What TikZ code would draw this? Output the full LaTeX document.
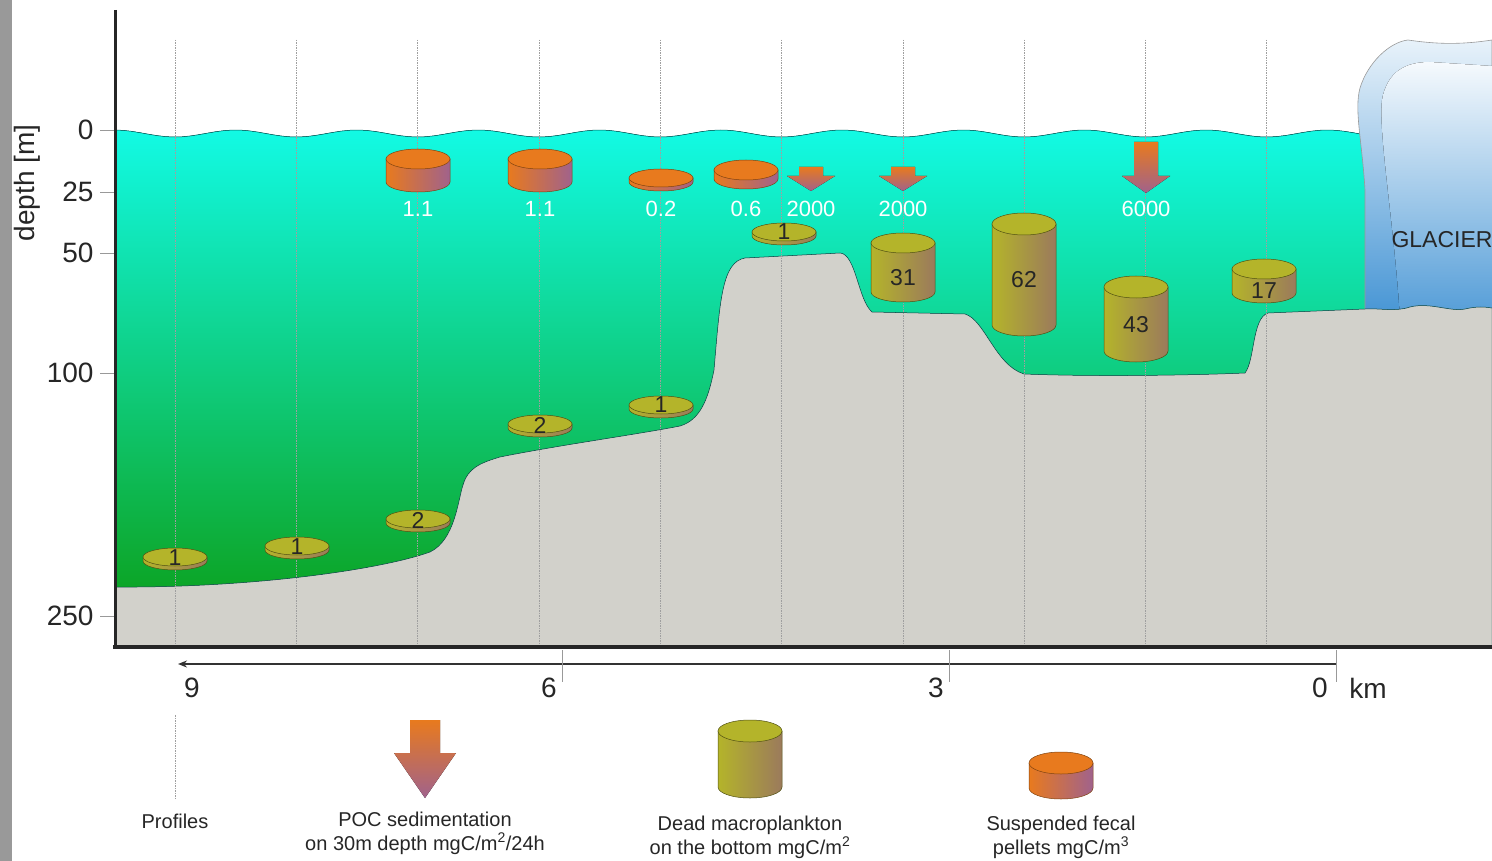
\documentclass[tikz,border=0pt]{standalone}
\usepackage{fontspec}
\setmainfont{Liberation Sans}
\usetikzlibrary{arrows.meta}

\definecolor{seatop}{RGB}{18,250,228}
\definecolor{seamid}{RGB}{16,214,142}
\definecolor{seabot}{RGB}{12,163,34}
\definecolor{bed}{RGB}{210,209,203}
\definecolor{icetop}{RGB}{232,242,250}
\definecolor{icemid}{RGB}{150,196,232}
\definecolor{icebot}{RGB}{68,148,212}
\definecolor{fecal}{RGB}{232,122,30}
\definecolor{mauve}{RGB}{160,98,140}
\definecolor{plankton}{RGB}{180,180,42}
\definecolor{umber}{RGB}{155,122,92}

\tikzset{
  profile/.style={gray!75,line width=.6pt,dash pattern=on 1.5pt off 1pt},
  pellet side/.style={left color=fecal,right color=mauve,draw=fecal!55!black,line width=.5pt},
  pellet top/.style={fill=fecal,draw=fecal!55!black,line width=.5pt},
  plankton side/.style={left color=plankton,right color=umber,draw=plankton!45!black,line width=.5pt},
  plankton top/.style={fill=plankton,draw=plankton!45!black,line width=.5pt},
  poc/.style={top color=fecal,bottom color=mauve},
  white label/.style={text=white,font=\fontsize{22}{24}\selectfont},
  dark label/.style={text=black!85,font=\fontsize{23}{24}\selectfont},
  depth label/.style={anchor=east,text=black!85,font=\fontsize{28}{30}\selectfont},
  km label/.style={text=black!85,font=\fontsize{28}{30}\selectfont},
  legend text/.style={align=center,text=black!85,font=\fontsize{20}{24}\selectfont},
  tick/.style={gray!80,line width=.6pt}
}

% cylinder: x, y of top face, height, y radius, kind
\newcommand\drum[5]{%
  \draw[#5 side] ({#1-32},#2) -- ({#1-32},{#2+#3})
    arc[start angle=180,end angle=0,x radius=32,y radius=#4] -- ({#1+32},#2) -- cycle;
  \draw[#5 top] (#1,#2) ellipse[x radius=32,y radius=#4];
}
% sinking arrow: x, top, neck, tip, half shaft, half head
\newcommand\poc[6]{%
  \fill[poc] ({#1-#5},#2) -- ({#1+#5},#2) -- ({#1+#5},#3) -- ({#1+#6},#3)
    -- (#1,#4) -- ({#1-#6},#3) -- ({#1-#5},#3) -- cycle;
}

\begin{document}
\begin{tikzpicture}[x=1pt,y=-1pt]
  \useasboundingbox (0,0) rectangle (1492,861);
  \fill[gray!80] (0,0) rectangle (12,861);

  % water column
  \fill[top color=seatop,middle color=seamid,bottom color=seabot]
    (115,130) -- plot[domain=115:1368,samples=150] (\x,{133.5+3.5*cos((\x-175)*2.9678)})
    -- (1368,600) -- (115,600) -- cycle;
  \draw[teal!70!black,line width=.5pt]
    plot[domain=115:1362,samples=150] (\x,{133.5+3.5*cos((\x-175)*2.9678)});

  % glacier
  \draw[top color=icetop,middle color=icemid,bottom color=icebot,draw=gray!80,line width=.6pt]
    (1365,320) -- (1365,190) .. controls (1362,140) and (1354,110) .. (1360,88)
    .. controls (1368,62) and (1390,42) .. (1408,40)
    .. controls (1435,44) and (1460,45) .. (1492,40) -- (1492,320) -- cycle;
  \fill[top color=icetop!40!white,middle color=icemid!80!white,bottom color=icebot!92!white]
    (1400,318) .. controls (1394,220) and (1376,120) .. (1383,95)
    .. controls (1390,68) and (1410,62) .. (1430,62) -- (1492,66) -- (1492,318) -- cycle;
  \node[text=black!85,anchor=west,font=\fontsize{23}{25}\selectfont] (ice) at (1388,240) {GLACIER};

  % sea bed
  \draw[fill=bed,draw=teal!50!black,line width=.5pt]
    (115,587) .. controls (250,588) and (380,570) .. (430,552)
    .. controls (455,540) and (458,500) .. (463,485)
    .. controls (468,468) and (480,463) .. (500,457)
    .. controls (560,445) and (640,434) .. (680,426)
    .. controls (700,420) and (708,400) .. (714,370)
    .. controls (720,300) and (722,262) .. (745,258)
    -- (840,253)
    .. controls (856,254) and (858,300) .. (872,312)
    -- (965,314)
    .. controls (985,320) and (995,365) .. (1024,374)
    .. controls (1100,377) and (1200,375) .. (1245,373)
    .. controls (1255,360) and (1252,318) .. (1268,313)
    -- (1365,309)
    .. controls (1380,308) and (1395,312) .. (1410,307)
    .. controls (1430,302) and (1450,312) .. (1465,309)
    .. controls (1478,306) and (1485,307) .. (1492,308)
    -- (1492,647) -- (115,647) -- cycle;

  \foreach \i in {0,...,9}
    \draw[profile] ({175+121.3*\i},40) -- ({175+121.3*\i},647);

  % fecal pellets
  \drum{418}{159}{23}{10}{pellet}
  \drum{540}{159}{23}{10}{pellet}
  \drum{661}{178}{4}{9}{pellet}
  \drum{746}{170}{9}{10}{pellet}
  \poc{811}{167}{176}{191}{12}{24}
  \poc{903}{167}{176}{191}{12}{24}
  \poc{1146}{142}{176}{193}{12}{24}
  \node[white label] (f1) at (418,209) {1.1};
  \node[white label] (f2) at (540,209) {1.1};
  \node[white label] (f3) at (661,209) {0.2};
  \node[white label] (f4) at (746,209) {0.6};
  \node[white label] (s1) at (811,209) {2000};
  \node[white label] (s2) at (903,209) {2000};
  \node[white label] (s3) at (1146,209) {6000};

  % dead macroplankton
  \drum{175}{557}{4}{9}{plankton}
  \drum{297}{546}{4}{9}{plankton}
  \drum{418}{519}{4}{9}{plankton}
  \drum{540}{424}{4}{9}{plankton}
  \drum{661}{405}{4}{9}{plankton}
  \drum{784}{232}{4}{9}{plankton}
  \drum{903}{243}{49}{10}{plankton}
  \drum{1024}{224}{101}{11}{plankton}
  \drum{1136}{287}{64}{11}{plankton}
  \drum{1264}{269}{24}{10}{plankton}
  \node[dark label] (m1) at (175,558) {1};
  \node[dark label] (m2) at (297,547) {1};
  \node[dark label] (m3) at (418,520) {2};
  \node[dark label] (m4) at (540,425) {2};
  \node[dark label] (m5) at (661,405) {1};
  \node[dark label] (m6) at (784,232) {1};
  \node[dark label] (m7) at (903,278) {31};
  \node[dark label] (m8) at (1024,280) {62};
  \node[dark label] (m9) at (1136,325) {43};
  \node[dark label] (m10) at (1264,291) {17};

  % depth axis
  \foreach \d/\y in {0/130,25/192,50/253,100/373,250/616} {
    \draw[tick] (100,\y) -- (115,\y);
    \node[depth label] (d\d) at (97,\y) {\d};
  }
  \node[rotate=90,text=black!85,font=\fontsize{28}{30}\selectfont] (depth) at (27,183) {depth [m]};
  \draw[black!85,line width=3pt] (115,10) -- (115,648);
  \draw[black!85,line width=3.5pt] (113,647) -- (1492,647);

  % distance axis
  \coordinate (k0) at (1336,664);
  \coordinate (k9) at (178,664);
  \draw[black!80,line width=1.5pt,-{Stealth[length=9pt,width=7pt]}] (k0) -- (k9);
  \foreach \x in {562,949,1336}
    \draw[tick] (\x,650) -- (\x,682);
  \node[km label] (n9) at (192,688) {9};
  \node[km label] (n6) at (549,688) {6};
  \node[km label] (n3) at (936,688) {3};
  \node[km label] (n0) at (1320,688) {0};
  \node[km label] (km) at (1368,688) {km};

  % legend
  \draw[profile] (175,715) -- (175,800);
  \node[legend text] (lp) at (175,821) {Profiles};
  \poc{425}{720}{753}{798}{15}{31}
  \node[legend text] (lpoc) at (425,833) {POC sedimentation\\on 30m depth mgC/m\textsuperscript{2}/24h};
  \drum{750}{731}{56}{11}{plankton}
  \node[legend text] (lmac) at (750,837) {Dead macroplankton\\on the bottom mgC/m\textsuperscript{2}};
  \drum{1061}{763}{25}{11}{pellet}
  \node[legend text] (lfec) at (1061,837) {Suspended fecal\\pellets mgC/m\textsuperscript{3}};
\end{tikzpicture}
\end{document}
